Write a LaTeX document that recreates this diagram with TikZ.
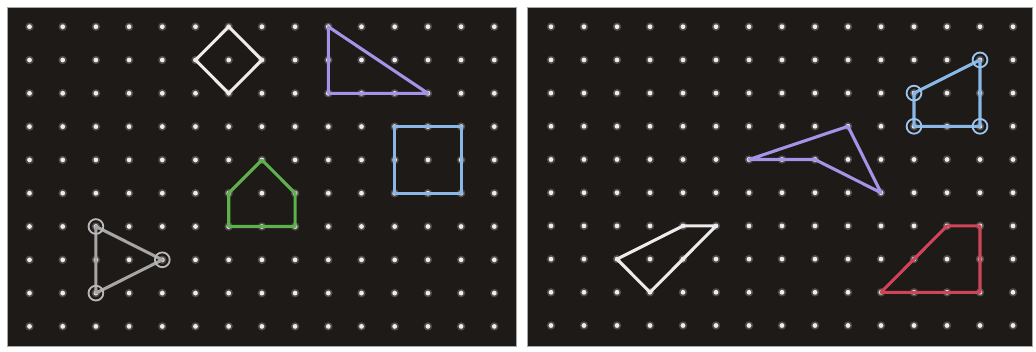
\documentclass[tikz,border=0pt]{standalone}
\definecolor{board}{HTML}{1D1A18}
\definecolor{bandwhite}{HTML}{ECECEC}
\definecolor{bandpurple}{HTML}{A493E6}
\definecolor{bandblue}{HTML}{8AB8E6}
\definecolor{bandgreen}{HTML}{5DB24C}
\definecolor{bandgray}{HTML}{A6A6A6}
\definecolor{bandred}{HTML}{D04458}
\tikzset{
  peg/.style={circle,fill=white!92!board,inner sep=0pt,minimum size=3.4pt},
  halo/.style={circle,fill=white!22!board,inner sep=0pt,minimum size=6pt},
  band/.style={line width=2.2pt,line join=round},
  ring/.style={circle,draw=#1,line width=1.3pt,inner sep=0pt,minimum size=10.5pt}
}
\begin{document}
\begin{tikzpicture}[x=0.025cm,y=-0.025cm]
  \useasboundingbox[fill=white] (0,0) rectangle (1036,351);
  \fill[board,draw=gray!70] (7,7) rectangle (516,346);
  \fill[board,draw=gray!70] (527,7) rectangle (1032,346);

  % pegs of both boards
  \foreach \i in {0,...,14}
    \foreach \j in {0,...,9} {
      \node[halo] at ({29.5+33.2*\i},{26.7+33.3*\j}) {};
      \node[peg] (L-\i-\j) at ({29.5+33.2*\i},{26.7+33.3*\j}) {};
      \node[halo] at ({551+33*\i},{26.7+33.2*\j}) {};
      \node[peg] (R-\i-\j) at ({551+33*\i},{26.7+33.2*\j}) {};
    }

  % left board
  \draw[band,bandwhite] (L-6-0.center) -- (L-7-1.center) -- (L-6-2.center) -- (L-5-1.center) -- cycle;
  \draw[band,bandpurple] (L-9-0.center) -- (L-12-2.center) -- (L-9-2.center) -- cycle;
  \draw[band,bandblue] (L-11-3.center) -- (L-13-3.center) -- (L-13-5.center) -- (L-11-5.center) -- cycle;
  \draw[band,bandgreen] (L-7-4.center) -- (L-8-5.center) -- (L-8-6.center) -- (L-6-6.center) -- (L-6-5.center) -- cycle;
  \draw[band,bandgray] (L-2-6.center) -- (L-4-7.center) -- (L-2-8.center) -- cycle;
  \node[ring=bandgray!80] (g1) at (L-2-6) {};
  \node[ring=bandgray!80] (g2) at (L-4-7) {};
  \node[ring=bandgray!80] (g3) at (L-2-8) {};

  % right board
  \draw[band,bandblue] (R-13-1.center) -- (R-13-3.center) -- (R-11-3.center) -- (R-11-2.center) -- cycle;
  \node[ring=bandblue!85] (b1) at (R-13-1) {};
  \node[ring=bandblue!85] (b2) at (R-13-3) {};
  \node[ring=bandblue!85] (b3) at (R-11-3) {};
  \node[ring=bandblue!85] (b4) at (R-11-2) {};
  \draw[band,bandpurple] (R-6-4.center) -- (R-9-3.center) -- (R-10-5.center) -- (R-8-4.center) -- cycle;
  \draw[band,bandwhite] (R-2-7.center) -- (R-4-6.center) -- (R-5-6.center) -- (R-3-8.center) -- cycle;
  \draw[band,bandred] (R-12-6.center) -- (R-13-6.center) -- (R-13-8.center) -- (R-10-8.center) -- cycle;
\end{tikzpicture}
\end{document}
